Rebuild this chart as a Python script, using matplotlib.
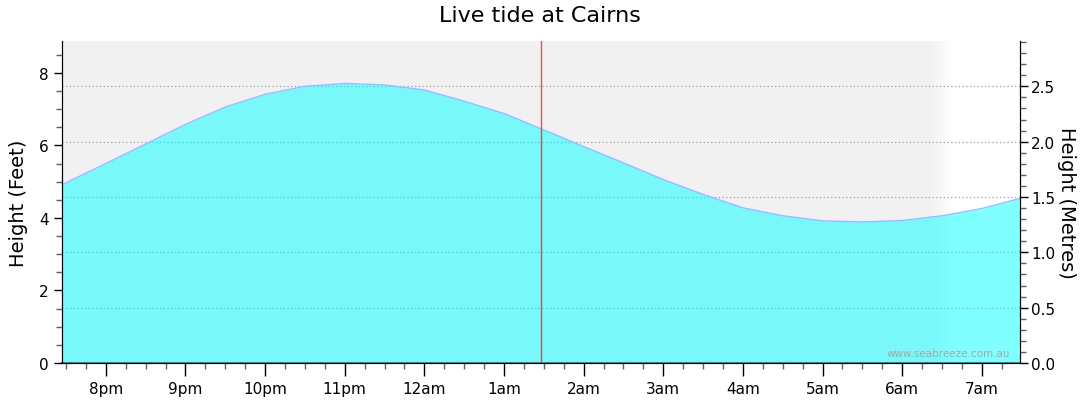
import numpy as np
import matplotlib
matplotlib.use("Agg")
import matplotlib.pyplot as plt
import matplotlib.ticker as ticker

# tide heights (feet), every half hour from 7pm (hours since midnight)
hours = [19.0, 19.5, 20.0, 20.5, 21.0, 21.5, 22.0, 22.5, 23.0, 23.5,
         24.0, 24.5, 25.0, 25.5, 26.0, 26.5, 27.0, 27.5, 28.0, 28.5,
         29.0, 29.5, 30.0, 30.5, 31.0, 31.5]
height_ft = [4.40, 4.97, 5.50, 6.04, 6.58, 7.06, 7.41, 7.63, 7.71, 7.67,
             7.53, 7.22, 6.88, 6.43, 5.97, 5.52, 5.06, 4.65, 4.28, 4.06,
             3.92, 3.89, 3.93, 4.06, 4.26, 4.55]

tick_hours = list(range(20, 32))
tick_labels = ['8pm', '9pm', '10pm', '11pm', '12am', '1am', '2am', '3am',
               '4am', '5am', '6am', '7am']

x_range = (19.45, 31.48)
now_hour = 25.46
sunrise_start, sunrise_end = 30.38, 30.68

plt.rcParams['font.family'] = ['DejaVu Sans']

fig = plt.figure(figsize=(10.8, 4.14), dpi=100)
ax_m = fig.add_axes([62 / 1080, 50 / 414, 958 / 1080, 322 / 414])
ax_f = ax_m.twinx()

# night shading on the main (metres) axes
grad_x = np.linspace(x_range[0], x_range[1], 600)
shade = np.clip((sunrise_end - grad_x) / (sunrise_end - sunrise_start), 0, 1)
img = np.zeros((1, len(grad_x), 4))
img[..., 3] = shade * 0.055
ax_m.imshow(img, extent=[x_range[0], x_range[1], 0, 2.91], aspect='auto',
            interpolation='bilinear', zorder=0)

ax_m.set_xlim(*x_range)
ax_m.set_ylim(0, 2.91)
ax_m.yaxis.tick_right()
ax_m.yaxis.set_label_position('right')
ax_m.yaxis.set_major_locator(ticker.MultipleLocator(0.5))
ax_m.yaxis.set_minor_locator(ticker.MultipleLocator(0.1))
ax_m.yaxis.set_major_formatter(ticker.FormatStrFormatter('%.1f'))
ax_m.grid(axis='y', color='#a0a0a0', linestyle=(0, (1, 2)), linewidth=0.9)
ax_m.set_ylabel('Height (Metres)', fontsize=14, rotation=270, va='center')
ax_m.yaxis.set_label_coords(1.049, 0.5)

# tide fill on the feet axes
ax_f.fill_between(hours, height_ft, 0, color='#00ffff', alpha=0.5,
                  linewidth=0, zorder=1)
ax_f.plot(hours, height_ft, color='#b0b0ff', linewidth=1, zorder=2)
ax_f.axvline(now_hour, color='#b84848', linewidth=1, alpha=0.85, zorder=3)
ax_f.set_xlim(*x_range)
ax_f.set_ylim(0, 8.88)
ax_f.yaxis.tick_left()
ax_f.yaxis.set_label_position('left')
ax_f.yaxis.set_major_locator(ticker.MultipleLocator(2))
ax_f.yaxis.set_minor_locator(ticker.MultipleLocator(0.5))
ax_f.set_ylabel('Height (Feet)', fontsize=14, labelpad=8)

ax_m.set_xticks(tick_hours)
ax_m.set_xticklabels(tick_labels)
ax_m.xaxis.set_minor_locator(ticker.MultipleLocator(0.25))

for a in (ax_m, ax_f):
    a.tick_params(which='major', length=6, width=1, labelsize=11, colors='black')
    a.tick_params(which='minor', length=4, width=1, color='#606060')
    a.spines['top'].set_visible(False)
ax_m.tick_params(axis='y', which='major', pad=2)
ax_m.tick_params(axis='x', which='major', length=9, pad=4)
ax_m.spines['bottom'].set_color('#1a4a6a')
ax_m.spines['bottom'].set_linewidth(1.5)

ax_f.text(0.99, 0.015, 'www.seabreeze.com.au', transform=ax_f.transAxes,
          ha='right', va='bottom', fontsize=7.5, color='#a8a8a8', zorder=4)

fig.suptitle('Live tide at Cairns', fontsize=16, y=0.985)

fig.savefig('out.png', dpi=100)
